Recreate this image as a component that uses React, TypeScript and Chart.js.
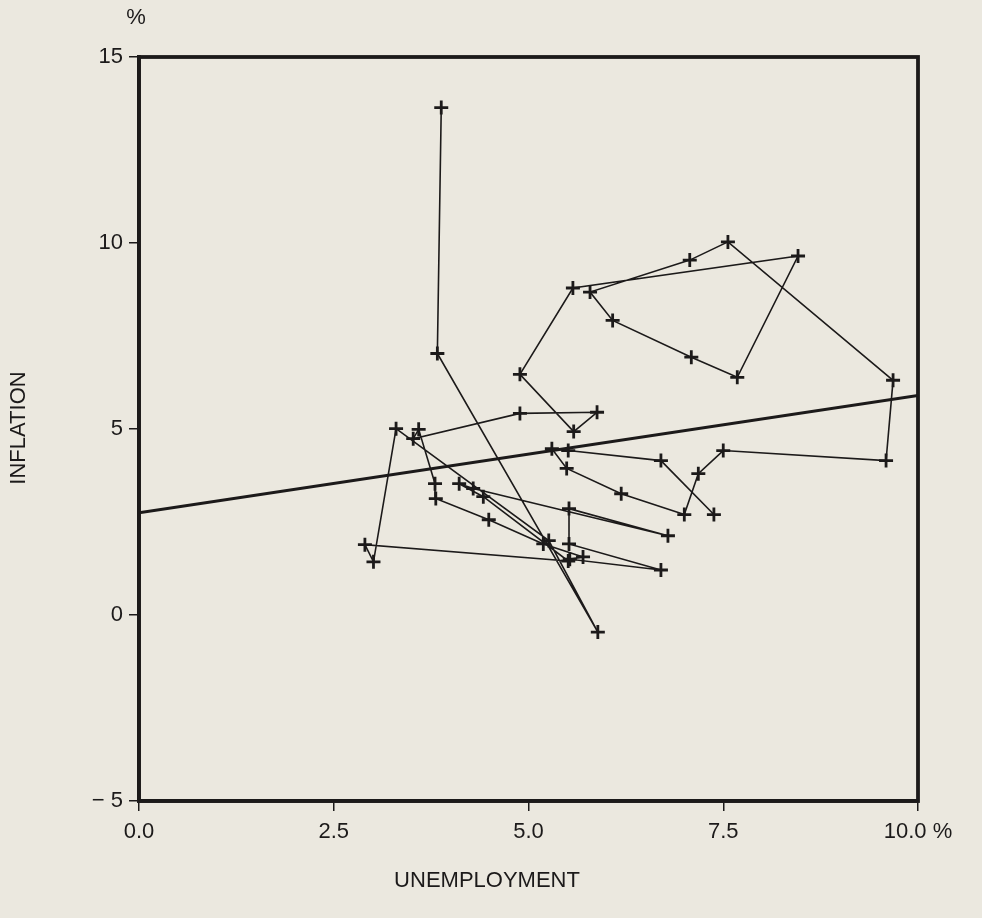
import { useEffect, useRef } from "react";
import { Chart, registerables } from "chart.js";

Chart.register(...registerables);

// Unemployment (%) and inflation (%) by year
const years = [
  1947, 1948, 1949, 1950, 1951, 1952, 1953, 1954, 1955, 1956,
  1957, 1958, 1959, 1960, 1961, 1962, 1963, 1964, 1965, 1966,
  1967, 1968, 1969, 1970, 1971, 1972, 1973, 1974, 1975, 1976,
  1977, 1978, 1979, 1980, 1981, 1982, 1983, 1984, 1985, 1986,
  1987, 1988, 1989, 1990, 1991, 1992,
];
const unemployment = [
  3.88, 3.83, 5.89, 5.26, 3.30, 3.01, 2.90, 5.51, 4.42, 4.11,
  4.29, 6.79, 5.52, 5.52, 6.70, 5.53, 5.70, 5.19, 4.49, 3.81,
  3.80, 3.59, 3.52, 4.89, 5.88, 5.58, 4.89, 5.57, 8.46, 7.68,
  7.09, 6.08, 5.79, 7.07, 7.56, 9.68, 9.59, 7.50, 7.18, 7.00,
  6.19, 5.49, 5.30, 5.51, 6.70, 7.38,
];
const inflation = [
  13.64, 7.03, -0.46, 2.00, 5.01, 1.43, 1.89, 1.45, 3.18, 3.53,
  3.40, 2.13, 2.86, 1.91, 1.21, 1.50, 1.56, 1.91, 2.56, 3.13,
  3.53, 4.99, 4.74, 5.42, 5.45, 4.93, 6.47, 8.79, 9.65, 6.39,
  6.93, 7.92, 8.68, 9.54, 10.03, 6.31, 4.15, 4.42, 3.80, 2.70,
  3.26, 3.94, 4.47, 4.42, 4.15, 2.70,
];

// Fitted line endpoints
const trendX = [0, 10];
const trendY = [2.75, 5.9];

// Axis ticks
const xTicks = [0, 2.5, 5, 7.5, 10];
const xTickLabels = ["0.0", "2.5", "5.0", "7.5", "10.0 %"];
const yTicks = [-5, 0, 5, 10, 15];
const yTickLabels = ["\u2212 5", "0", "5", "10", "15"];

const FONT = "'Liberation Sans', Arial, Helvetica, sans-serif";
const INK = "#1c1a1a";
const BG = "#ebe8df";

export default function App() {
  const ref = useRef<HTMLCanvasElement | null>(null);

  useEffect(() => {
    document.body.style.margin = "0";
    const canvas = ref.current;
    if (!canvas) return;

    const decor = {
      id: "decor",
      beforeDraw(chart: any) {
        const { ctx, width, height } = chart;
        ctx.save();
        ctx.fillStyle = BG;
        ctx.fillRect(0, 0, width, height);
        ctx.restore();
      },
      afterDraw(chart: any) {
        const { ctx, chartArea } = chart;
        ctx.save();
        ctx.strokeStyle = INK;
        ctx.lineWidth = 3.8;
        ctx.strokeRect(
          chartArea.left,
          chartArea.top,
          chartArea.right - chartArea.left,
          chartArea.bottom - chartArea.top
        );
        ctx.fillStyle = INK;
        ctx.font = `22px ${FONT}`;
        ctx.textAlign = "center";
        ctx.textBaseline = "middle";
        ctx.fillText("%", chartArea.left - 3, 18);
        ctx.fillText("UNEMPLOYMENT", 487, 881);
        ctx.translate(19, 428);
        ctx.rotate(-Math.PI / 2);
        ctx.fillText("INFLATION", 0, 0);
        ctx.restore();
      },
    };

    const points = unemployment.map((u, i) => ({ x: u, y: inflation[i], year: years[i] }));
    const trend = trendX.map((x, i) => ({ x, y: trendY[i] }));

    const chart = new Chart(canvas, {
      type: "scatter",
      data: {
        datasets: [
          {
            label: "Fitted",
            data: trend,
            showLine: true,
            borderColor: INK,
            borderWidth: 3,
            pointRadius: 0,
          },
          {
            label: "Inflation vs unemployment",
            data: points,
            showLine: true,
            borderColor: INK,
            borderWidth: 1.6,
            pointStyle: "cross",
            pointRadius: 7,
            pointBorderWidth: 2.8,
            pointBorderColor: INK,
            pointBackgroundColor: INK,
          },
        ],
      },
      options: {
        responsive: false,
        animation: false,
        events: [],
        layout: { padding: { top: 57, right: 64, left: 0, bottom: 0 } },
        plugins: {
          legend: { display: false },
          tooltip: { enabled: false },
          title: { display: false },
        },
        scales: {
          x: {
            type: "linear",
            min: 0,
            max: 10,
            afterFit: (s: any) => {
              s.height = 117;
            },
            afterBuildTicks: (s: any) => {
              s.ticks = xTicks.map((v) => ({ value: v }));
            },
            ticks: {
              autoSkip: false,
              maxRotation: 0,
              padding: 8,
              color: INK,
              font: { family: FONT, size: 22 },
              callback: (v: any) => {
                const i = xTicks.indexOf(Number(v));
                return i >= 0 ? xTickLabels[i] : "";
              },
            },
            grid: {
              drawOnChartArea: false,
              drawTicks: true,
              tickLength: 10,
              tickColor: INK,
              lineWidth: 1.5,
            },
            border: { display: true, color: INK, width: 3.8 },
          },
          y: {
            type: "linear",
            min: -5,
            max: 15,
            afterFit: (s: any) => {
              s.width = 139;
            },
            afterBuildTicks: (s: any) => {
              s.ticks = yTicks.map((v) => ({ value: v }));
            },
            ticks: {
              autoSkip: false,
              padding: 6,
              color: INK,
              font: { family: FONT, size: 22 },
              callback: (v: any) => {
                const i = yTicks.indexOf(Number(v));
                return i >= 0 ? yTickLabels[i] : "";
              },
            },
            grid: {
              drawOnChartArea: false,
              drawTicks: true,
              tickLength: 10,
              tickColor: INK,
              lineWidth: 1.5,
            },
            border: { display: true, color: INK, width: 3.8 },
          },
        },
      },
      plugins: [decor],
    });

    return () => chart.destroy();
  }, []);

  return (
    <div style={{ position: "absolute", left: 0, top: 0, width: 982, height: 918 }}>
      <canvas ref={ref} width={982} height={918} style={{ display: "block" }} />
    </div>
  );
}
